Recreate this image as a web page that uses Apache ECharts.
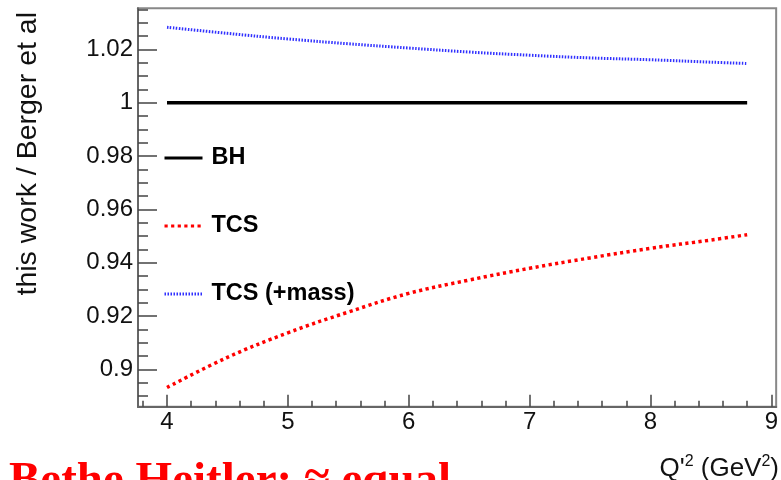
<!DOCTYPE html>
<html>
<head>
<meta charset="utf-8">
<script src="https://cdn.jsdelivr.net/npm/echarts@6/dist/echarts.min.js"></script>
<style>
html,body{margin:0;padding:0;background:#fff;}
#c{width:781px;height:480px;}
</style>
</head>
<body>
<div id="c"></div>
<script>
// ---- data ----
const q2Values = [4.0, 4.5, 5.0, 5.5, 6.0, 6.5, 7.0, 7.5, 8.0, 8.5, 8.8];
const bhRatio = [1.0, 1.0, 1.0, 1.0, 1.0, 1.0, 1.0, 1.0, 1.0, 1.0, 1.0];
const tcsRatio = [0.8932, 0.9045, 0.9137, 0.9215, 0.9285, 0.9335, 0.9379, 0.9418, 0.9454, 0.9485, 0.9505];
const tcsMassRatio = [1.0283, 1.0260, 1.0239, 1.0221, 1.0205, 1.0190, 1.0178, 1.0168, 1.0161, 1.0152, 1.0147];
const xTickValues = [4, 5, 6, 7, 8, 9];
const xTickLabels = ['4', '5', '6', '7', '8', '9'];
const yTickValues = [0.9, 0.92, 0.94, 0.96, 0.98, 1.0, 1.02];
const yTickLabels = ['0.9', '0.92', '0.94', '0.96', '0.98', '1', '1.02'];
const seriesNames = ['BH', 'TCS', 'TCS (+mass)'];

const X_MIN = 3.76, X_MAX = 9.04, Y_MIN = 0.886, Y_MAX = 1.0354;
const xMinor = [];
for (let i = 19; i <= 45; i++) { const v = +(i * 0.2).toFixed(2); if (v > X_MIN && v < X_MAX) xMinor.push(v); }
const yMinor = [];
for (let i = 178; i <= 207; i++) { const v = +(i * 0.005).toFixed(3); if (v > Y_MIN && v < Y_MAX) yMinor.push(v); }

const FONT = 'Liberation Sans';
const pairs = (ys) => q2Values.map((x, i) => [x, ys[i]]);

const chart = echarts.init(document.getElementById('c'), null, {renderer: 'canvas'});
const gridDef = {left: 138, top: 8.3, width: 644, height: 398.4, show: true, borderColor: '#888', borderWidth: 2, backgroundColor: 'transparent'};

chart.setOption({
  animation: false,
  backgroundColor: '#fff',
  title: {
    text: 'Bethe Heitler: \u2248 equal',
    left: 4, top: 453,
    textStyle: {color: '#ff0000', fontSize: 47, fontWeight: 'bold', fontFamily: 'Liberation Serif'}
  },
  grid: gridDef,
  legend: {
    orient: 'vertical', left: 158, top: 141, itemWidth: 38, itemHeight: 14, itemGap: 44,
    data: seriesNames,
    itemStyle: {opacity: 0},
    lineStyle: {width: 3},
    textStyle: {fontFamily: FONT, fontSize: 23.5, fontWeight: 'bold', color: '#000', padding: [0, 0, 0, 4]}
  },
  xAxis: [{
    type: 'value', min: X_MIN, max: X_MAX, position: 'bottom',
    axisLine: {show: true, lineStyle: {color: '#666', width: 2}},
    axisTick: {show: true, inside: true, length: 12, customValues: xTickValues, lineStyle: {color: '#444', width: 1.5}},
    axisLabel: {show: true, customValues: xTickValues, margin: 4, fontFamily: FONT, fontSize: 24, color: '#111',
      formatter: (v) => xTickLabels[xTickValues.indexOf(Math.round(v))]},
    splitLine: {show: false}
  }, {
    type: 'value', min: X_MIN, max: X_MAX, position: 'bottom',
    axisLine: {show: false},
    axisTick: {show: true, inside: true, length: 6, customValues: xMinor, lineStyle: {color: '#444', width: 1.5}},
    axisLabel: {show: false},
    splitLine: {show: false}
  }],
  yAxis: [{
    type: 'value', min: Y_MIN, max: Y_MAX, position: 'left',
    axisLine: {show: true, lineStyle: {color: '#666', width: 2}},
    axisTick: {show: true, inside: true, length: 19, customValues: yTickValues, lineStyle: {color: '#444', width: 1.5}},
    axisLabel: {show: true, customValues: yTickValues, margin: 5, fontFamily: FONT, fontSize: 24, color: '#111',
      formatter: (v) => { const i = yTickValues.findIndex(t => Math.abs(t - v) < 1e-6); return i >= 0 ? yTickLabels[i] : ''; }},
    splitLine: {show: false}
  }, {
    type: 'value', min: Y_MIN, max: Y_MAX, position: 'left',
    axisLine: {show: false},
    axisTick: {show: true, inside: true, length: 10, customValues: yMinor, lineStyle: {color: '#444', width: 1.5}},
    axisLabel: {show: false},
    splitLine: {show: false}
  }],
  graphic: [{
    type: 'text', x: 28, y: 12, rotation: Math.PI / 2,
    style: {text: 'this work / Berger et al', fontFamily: FONT, fontSize: 28.5, fill: '#111', align: 'right', verticalAlign: 'middle'}
  }, {
    type: 'text', x: 779, y: 483,
    style: {
      text: "Q'{s|2} (GeV{s|2})", fontFamily: FONT, fontSize: 26, fill: '#111', align: 'right', verticalAlign: 'bottom',
      rich: {s: {fontSize: 16, fontFamily: FONT, fill: '#111', verticalAlign: 'top', lineHeight: 29}}
    }
  }],
  series: [{
    name: seriesNames[0], type: 'line', data: pairs(bhRatio), showSymbol: false, symbol: 'none',
    lineStyle: {color: '#000', width: 3.5, type: 'solid'}, itemStyle: {color: '#000'}
  }, {
    name: seriesNames[1], type: 'line', data: pairs(tcsRatio), showSymbol: false, symbol: 'none', smooth: 0.4,
    lineStyle: {color: '#ff0000', width: 3.5, type: [3.2, 3.4]}, itemStyle: {color: '#ff0000'}
  }, {
    name: seriesNames[2], type: 'line', data: pairs(tcsMassRatio), showSymbol: false, symbol: 'none', smooth: 0.4,
    lineStyle: {color: '#3030ff', width: 3, type: [1.5, 1.5]}, itemStyle: {color: '#3030ff'}
  }]
});
</script>
</body>
</html>
